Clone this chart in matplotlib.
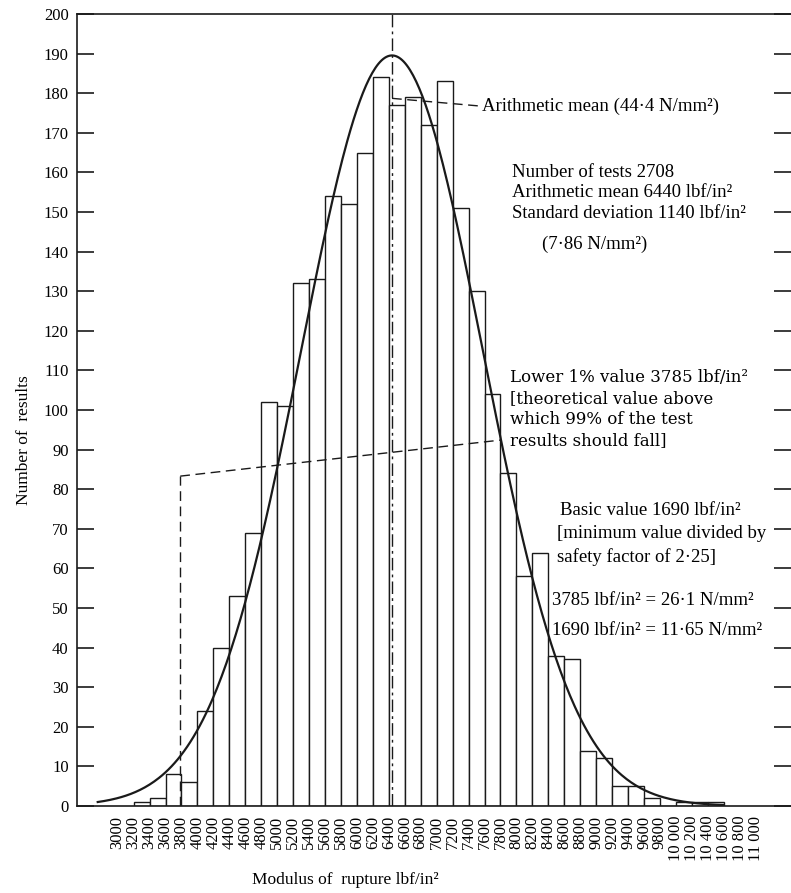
import numpy as np
import matplotlib.pyplot as plt

# histogram: left edge of each 200 lbf/in2 class and number of results in it
bin_width = 200
bin_left = np.arange(3200, 10600, bin_width)
counts = [1, 2, 8, 6, 24, 40, 53, 69, 102, 101,
          132, 133, 154, 152, 165, 184, 177, 179, 172, 183,
          151, 130, 104, 84, 58, 64, 38, 37, 14, 12,
          5, 5, 2, 0, 1, 1, 1]

# statistics printed on the chart (theoretical normal curve uses them)
n_tests = 2708
mean_val = 6440
sd_val = 1140
lower_1pct = 3785

tick_vals = np.arange(3000, 11001, 200)
tick_labels = [("%d %03d" % (v // 1000, v % 1000)) if v >= 10000 else str(v) for v in tick_vals]
y_ticks = np.arange(0, 201, 10)

serif = 'Liberation Serif'
plt.rcParams['font.family'] = [serif, 'DejaVu Serif']

fig = plt.figure(figsize=(7.91, 8.93), dpi=100)
ax = fig.add_axes([77 / 791, 87 / 893, (791 - 77) / 791, (806 - 14) / 893])

ink = '#1a1a1a'
ax.bar(bin_left, counts, width=bin_width, align='edge', facecolor='white',
       edgecolor=ink, linewidth=1.0)

# fitted normal curve
xc = np.linspace(2750, 10600, 400)
yc = n_tests * bin_width / (sd_val * np.sqrt(2 * np.pi)) * np.exp(-0.5 * ((xc - mean_val) / sd_val) ** 2)
ax.plot(xc, yc, color=ink, linewidth=1.6)

# mean line
ax.plot([mean_val, mean_val], [0, 200], color=ink, linewidth=1.0,
        linestyle=(0, (9, 3, 2, 3)))
ax.plot([mean_val, 7520], [178.7, 176.8], color=ink, linewidth=1.0,
        linestyle=(0, (7, 4)))

# lower 1% value
ax.plot([lower_1pct, lower_1pct], [0, 83.3], color=ink, linewidth=1.0,
        linestyle=(0, (7, 4)))
ax.plot([lower_1pct, 7800], [83.3, 92.4], color=ink, linewidth=1.0,
        linestyle=(0, (7, 4)))

ax.set_xlim(2490, 11443)
ax.set_ylim(0, 200)
ax.set_xticks(tick_vals)
ax.set_xticklabels(tick_labels, rotation=90, fontsize=12, va='top')
ax.set_yticks(y_ticks)
ax.set_yticklabels([str(v) for v in y_ticks], fontsize=12)
ax.tick_params(axis='x', length=0, pad=7)
ax.tick_params(axis='y', direction='in', length=12, width=1.2, left=True, right=True,
               pad=6, color=ink)
ax.spines['right'].set_visible(False)
for s in ['left', 'top', 'bottom']:
    ax.spines[s].set_linewidth(1.2)
    ax.spines[s].set_color(ink)

fs = 13.5
ax.text(7569, 176.8, 'Arithmetic mean (44·4 N/mm²)', fontsize=fs, va='center')

ax.text(7945, 160.1, 'Number of tests 2708', fontsize=fs, va='center')
ax.text(7945, 154.8, 'Arithmetic mean 6440 lbf/in²', fontsize=fs, va='center')
ax.text(7945, 149.7, 'Standard deviation 1140 lbf/in²', fontsize=fs, va='center')
ax.text(8317, 141.9, '(7·86 N/mm²)', fontsize=fs, va='center')

lw_font = ['DejaVu Serif']
ax.text(7920, 108.3, 'Lower 1% value 3785 lbf/in²', fontsize=12, va='center', family=lw_font)
ax.text(7920, 103.0, '[theoretical value above', fontsize=12, va='center', family=lw_font)
ax.text(7920, 97.5, 'which 99% of the test', fontsize=12, va='center', family=lw_font)
ax.text(7920, 92.2, 'results should fall]', fontsize=12, va='center', family=lw_font)

ax.text(8547, 74.5, 'Basic value 1690 lbf/in²', fontsize=fs, va='center')
ax.text(8505, 68.7, '[minimum value divided by', fontsize=fs, va='center')
ax.text(8505, 62.9, 'safety factor of 2·25]', fontsize=fs, va='center')

ax.text(8443, 52.0, '3785 lbf/in² = 26·1 N/mm²', fontsize=fs, va='center')
ax.text(8443, 44.4, '1690 lbf/in² = 11·65 N/mm²', fontsize=fs, va='center')

fig.text(24 / 791, 1 - 440 / 893, 'Number of  results', rotation=90, fontsize=12.5,
         ha='center', va='center')
fig.text(345 / 791, 1 - 880 / 893, 'Modulus of  rupture lbf/in²', fontsize=12.5,
         ha='center', va='center')

fig.savefig('out.png', dpi=100)
